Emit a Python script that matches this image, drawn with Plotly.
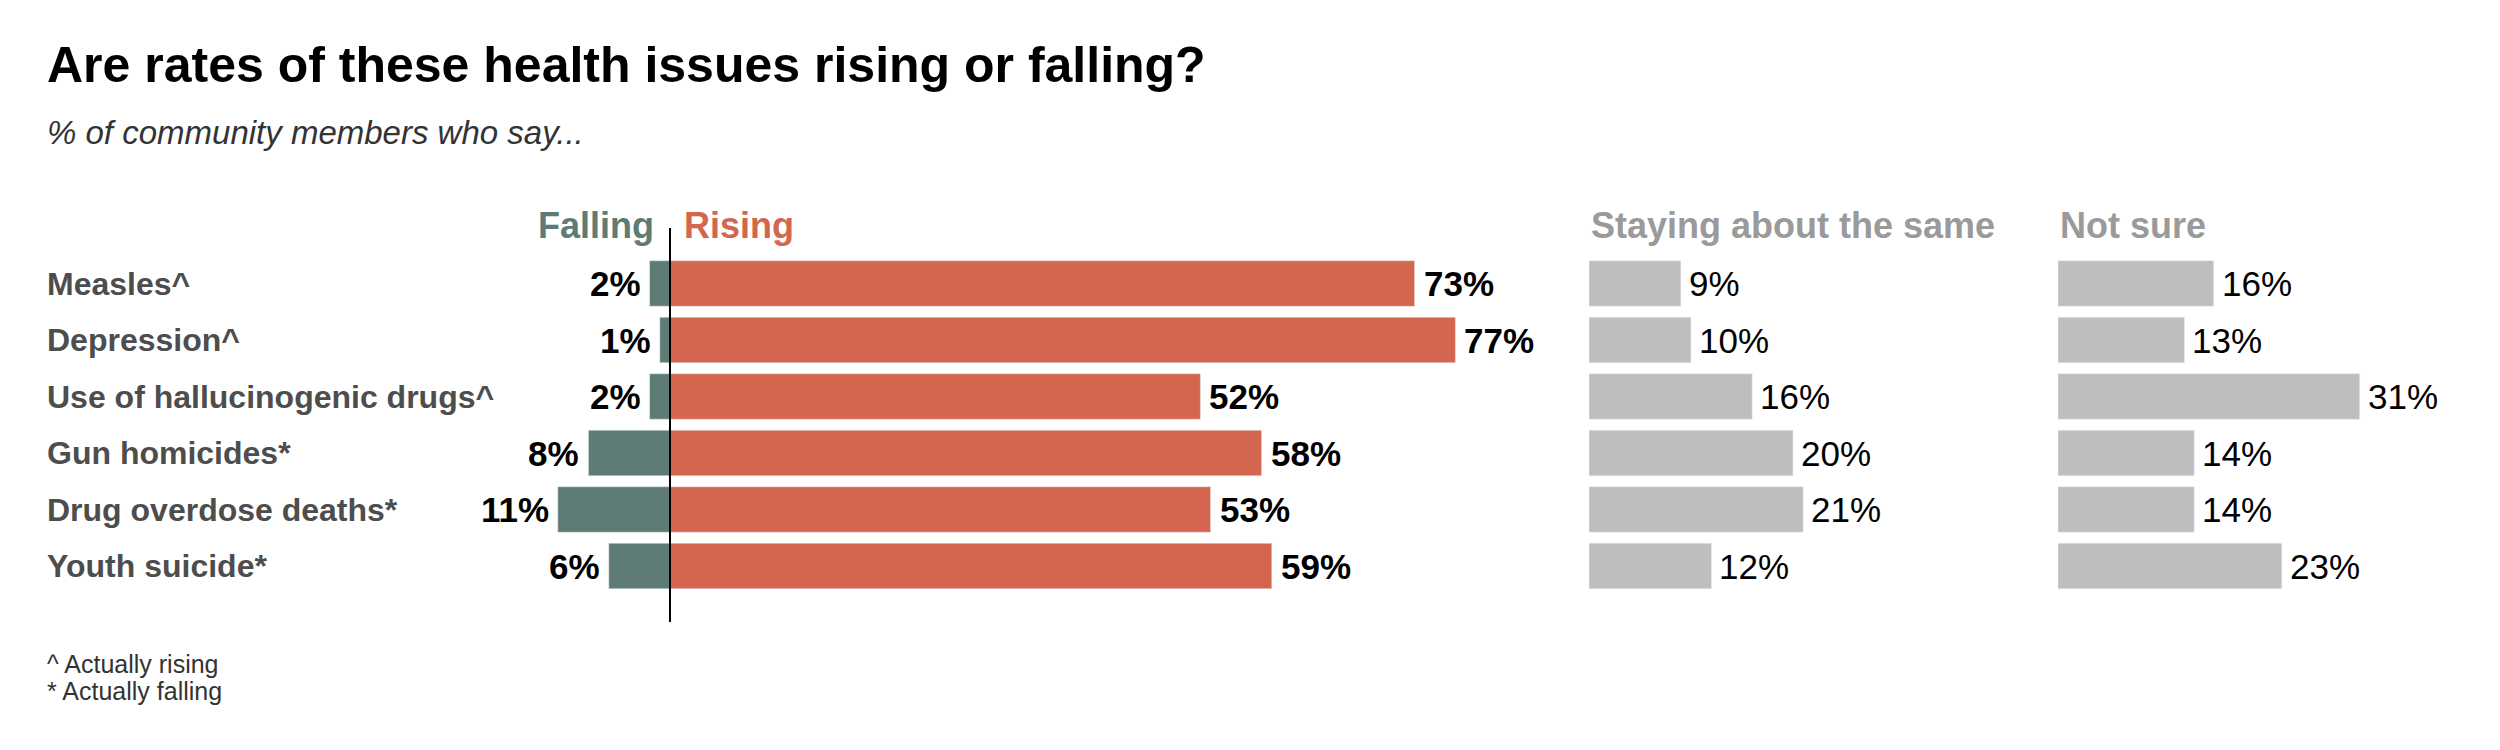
import plotly.graph_objects as go

# survey data, % of community members
issues = [
    "Measles^",
    "Depression^",
    "Use of hallucinogenic drugs^",
    "Gun homicides*",
    "Drug overdose deaths*",
    "Youth suicide*",
]
falling = [2, 1, 2, 8, 11, 6]
rising = [73, 77, 52, 58, 53, 59]
same = [9, 10, 16, 20, 21, 12]
not_sure = [16, 13, 31, 14, 14, 23]

W, H = 2500, 750
OFF = 8  # page body margin around the plot div
FONT = "Liberation Sans, Arial, sans-serif"
C_FALL = "#5e7c75"
C_RISE = "#d4664f"
C_GRAY = "#bebebf"
C_HEAD = "#9a9a9a"
C_LABEL = "#4d4d4d"


def px(x):
    return (x - OFF) / W


def py(y):
    return 1 - (y - OFF) / H


def span(left, right, zero, scale):
    """Domain + range for an axis laid out in pixels."""
    return [px(left), px(right)], [(left - zero) / scale, (right - zero) / scale]


dom1, rng1 = span(540, 1500, 670, 10.2)
dom2, rng2 = span(1589, 1895, 1589, 10.2)
dom3, rng3 = span(2058, 2399, 2058, 9.73)

fig = go.Figure()
fig.add_trace(go.Bar(y=issues, x=[-v for v in falling], orientation="h",
                     marker_color=C_FALL, xaxis="x", yaxis="y"))
fig.add_trace(go.Bar(y=issues, x=rising, orientation="h",
                     marker_color=C_RISE, xaxis="x", yaxis="y"))
fig.add_trace(go.Bar(y=issues, x=same, orientation="h",
                     marker_color=C_GRAY, xaxis="x2", yaxis="y"))
fig.add_trace(go.Bar(y=issues, x=not_sure, orientation="h",
                     marker_color=C_GRAY, xaxis="x3", yaxis="y"))

ann = []
# category labels, left aligned
for name in issues:
    ann.append(dict(text=name, x=px(45), xref="paper", xanchor="left",
                    y=name, yref="y", yanchor="middle", showarrow=False,
                    font=dict(size=32, color=C_LABEL, family=FONT, weight="bold")))
# value labels
for name, f, r, s, n in zip(issues, falling, rising, same, not_sure):
    bold = dict(size=35, color="black", family=FONT, weight="bold")
    plain = dict(size=35, color="black", family=FONT)
    ann.append(dict(text=f"{f}%", x=-f, xref="x", xanchor="right", xshift=-7,
                    y=name, yref="y", showarrow=False, font=bold))
    ann.append(dict(text=f"{r}%", x=r, xref="x", xanchor="left", xshift=7,
                    y=name, yref="y", showarrow=False, font=bold))
    ann.append(dict(text=f"{s}%", x=s, xref="x2", xanchor="left", xshift=6,
                    y=name, yref="y", showarrow=False, font=plain))
    ann.append(dict(text=f"{n}%", x=n, xref="x3", xanchor="left", xshift=6,
                    y=name, yref="y", showarrow=False, font=plain))

# column headers
head_y = py(225)
headers = [
    ("Falling", 0, "x", "right", -14, C_FALL),
    ("Rising", 0, "x", "left", 12, C_RISE),
    ("Staying about the same", 0, "x2", "left", 0, C_HEAD),
    ("Not sure", 0, "x3", "left", 0, C_HEAD),
]
for text, x, xref, anchor, shift, color in headers:
    ann.append(dict(text=text, x=x, xref=xref, xanchor=anchor, xshift=shift,
                    y=head_y, yref="paper", yanchor="middle", showarrow=False,
                    font=dict(size=36, color=color, family=FONT, weight="bold")))

# title, subtitle, footnotes
ann.append(dict(text="Are rates of these health issues rising or falling?",
                x=px(45), y=py(65), xref="paper", yref="paper",
                xanchor="left", yanchor="middle", showarrow=False,
                font=dict(size=50, color="black", family=FONT, weight="bold")))
ann.append(dict(text="<i>% of community members who say...</i>",
                x=px(45), y=py(132), xref="paper", yref="paper",
                xanchor="left", yanchor="middle", showarrow=False,
                font=dict(size=33, color="#333333", family=FONT)))
for text, y in [("^ Actually rising", 664), ("* Actually falling", 691)]:
    ann.append(dict(text=text, x=px(45), y=py(y), xref="paper", yref="paper",
                    xanchor="left", yanchor="middle", showarrow=False,
                    font=dict(size=25, color="#333333", family=FONT)))

axis_off = dict(visible=False, fixedrange=True)
fig.update_layout(
    width=W, height=H,
    margin=dict(l=0, r=0, t=0, b=0),
    paper_bgcolor="white", plot_bgcolor="white",
    barmode="relative", bargap=0.195,
    showlegend=False, hovermode=False,
    xaxis=dict(domain=dom1, range=rng1, anchor="y", **axis_off),
    xaxis2=dict(domain=dom2, range=rng2, anchor="y", **axis_off),
    xaxis3=dict(domain=dom3, range=rng3, anchor="y", **axis_off),
    yaxis=dict(domain=[py(594.25), py(255.25)], range=[5.5, -0.5],
               type="category", categoryorder="array", categoryarray=issues,
               **axis_off),
    annotations=ann,
    shapes=[dict(type="line", xref="x", yref="paper", x0=0, x1=0,
                 y0=py(228), y1=py(622), line=dict(color="black", width=2))],
)

fig.write_html("out.html")
